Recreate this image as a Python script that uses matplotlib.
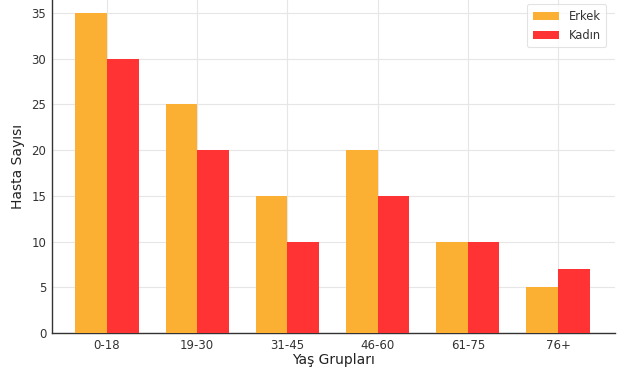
import matplotlib
matplotlib.use("Agg")
import matplotlib.pyplot as plt
import numpy as np

categories = ["0-18", "19-30", "31-45", "46-60", "61-75", "76+"]
erkek = [35, 25, 15, 20, 10, 5]
kadin = [30, 20, 10, 15, 10, 7]

fig = plt.figure(figsize=(6.18, 3.75), dpi=100)
ax = fig.add_axes([0.084, 0.112, 0.911, 0.888])

x = np.arange(len(categories))
w = 0.35
ax.bar(x - w/2, erkek, w, color="#FBB034", label="Erkek", zorder=3)
ax.bar(x + w/2, kadin, w, color="#FF3333", label="Kadın", zorder=3)

ax.set_xticks(x)
ax.set_xticklabels(categories)
ax.set_xlim(-0.61, 5.63)
ax.set_ylim(0, 36.4)
ax.set_yticks(range(0, 36, 5))
ax.tick_params(labelsize=8.5, length=0, colors="#333333", pad=4)
ax.grid(True, color="#e6e6e6", linewidth=0.8, zorder=0)
ax.set_axisbelow(True)
for s in ["top", "right"]:
    ax.spines[s].set_visible(False)
for s in ["left", "bottom"]:
    ax.spines[s].set_color("#333333")
    ax.spines[s].set_linewidth(1.0)

ax.set_xlabel("Yaş Grupları", fontsize=10, color="#222222", labelpad=1)
ax.set_ylabel("Hasta Sayısı", fontsize=10, color="#222222", labelpad=5)

leg = ax.legend(loc="upper right", fontsize=8.3, frameon=True, borderpad=0.5,
                handlelength=2.3, labelspacing=0.5, bbox_to_anchor=(0.995, 1.005))
leg.get_frame().set_edgecolor("#dddddd")
leg.get_frame().set_linewidth(0.8)
for t in leg.get_texts():
    t.set_color("#333333")

fig.savefig("out.png", dpi=100)
